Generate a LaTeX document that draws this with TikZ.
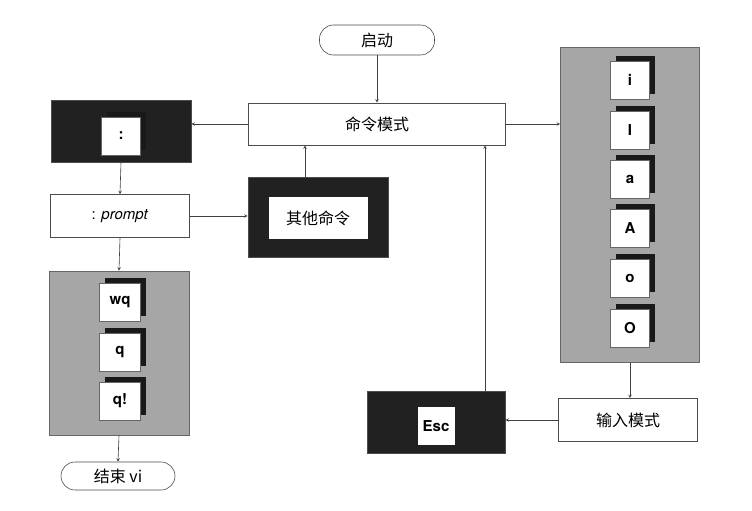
\documentclass[tikz,border=0pt]{standalone}
\usepackage{fontspec}
\setsansfont{TeX Gyre Heros}
\newfontfamily\cjk{Noto Sans CJK SC}
\usetikzlibrary{shadows}
\tikzset{
  box/.style={draw=black!70, line width=0.6pt, fill=white, font=\cjk\fontsize{16}{18}\selectfont},
  term/.style={box, rounded corners=14pt},
  darkbox/.style={fill=black!87, draw=black!70, line width=0.6pt},
  greybox/.style={fill=black!35, draw=black!60, line width=0.6pt},
  keycap/.style={fill=white, draw=black!60, line width=0.5pt, minimum width=39pt, minimum height=38pt,
    font=\sffamily\bfseries\fontsize{15}{17}\selectfont,
    drop shadow={shadow xshift=5pt, shadow yshift=5pt, fill=black!90, opacity=1}},
  flow/.style={->, >=stealth, draw=black!75, line width=0.6pt}
}
\begin{document}
\begin{tikzpicture}[x=1pt, y=-1pt]
  \useasboundingbox (0,0) rectangle (752,511);
  \node[term, minimum width=115pt, minimum height=30pt] (start) at (377,40) {启动};
  \node[box, minimum width=257pt, minimum height=42pt] (cmd) at (377,124) {命令模式};
  \node[darkbox, minimum width=140pt, minimum height=62pt] (colon) at (121,131) {};
  \node[keycap] (colonkey) at (121,136) {:};
  \node[box, minimum width=139pt, minimum height=43pt, font=\sffamily\fontsize{15}{17}\selectfont] (prompt) at (120,216) {: \textit{prompt}};
  \node[darkbox, minimum width=140pt, minimum height=80pt] (other) at (318,217) {};
  \node[box, draw=none, minimum width=99pt, minimum height=42pt] (otherkey) at (318,218) {其他命令};
  \node[greybox, minimum width=140pt, minimum height=164pt] (quit) at (119,353) {};
  \node[keycap, minimum width=41pt] (wq) at (120,302) {wq};
  \node[keycap, minimum width=41pt] (q) at (120,352) {q};
  \node[keycap, minimum width=41pt] (qb) at (120,401) {q!};
  \node[term, minimum width=114pt, minimum height=28pt] (end) at (118,476) {结束 vi};
  \node[greybox, minimum width=139pt, minimum height=315pt] (ins) at (630,205) {};
  \foreach \k/\y [count=\i] in {i/80, I/130, a/179, A/228, o/278, O/328}
    \node[keycap] (ins\i) at (630,\y) {\k};
  \node[box, minimum width=139pt, minimum height=43pt] (input) at (628,420) {输入模式};
  \node[darkbox, minimum width=138pt, minimum height=62pt] (esc) at (436,422) {};
  \node[fill=white, minimum width=37pt, minimum height=38pt, font=\sffamily\bfseries\fontsize{15}{17}\selectfont] (esckey) at (436,426) {Esc};
  \draw[flow] (start.south) -- (cmd.north);
  \draw[flow] (cmd.west) -- (cmd.west -| colon.east);
  \draw[flow] (colon.south) -- (prompt.north);
  \draw[flow] (prompt.east) -- (prompt.east -| other.west);
  \draw[flow] ([xshift=-13pt]other.north) -- ([xshift=-13pt]other.north |- cmd.south);
  \draw[flow] (cmd.east) -- (cmd.east -| ins.west);
  \draw[flow] (prompt.south) -- (quit.north);
  \draw[flow] (quit.south) -- (end.north);
  \draw[flow] (ins.south) -- (ins.south |- input.north);
  \draw[flow] (input.west) -- (input.west -| esc.east);
  \draw[flow] ([xshift=49pt]esc.north) -- ([xshift=49pt]esc.north |- cmd.south);
\end{tikzpicture}
\end{document}
